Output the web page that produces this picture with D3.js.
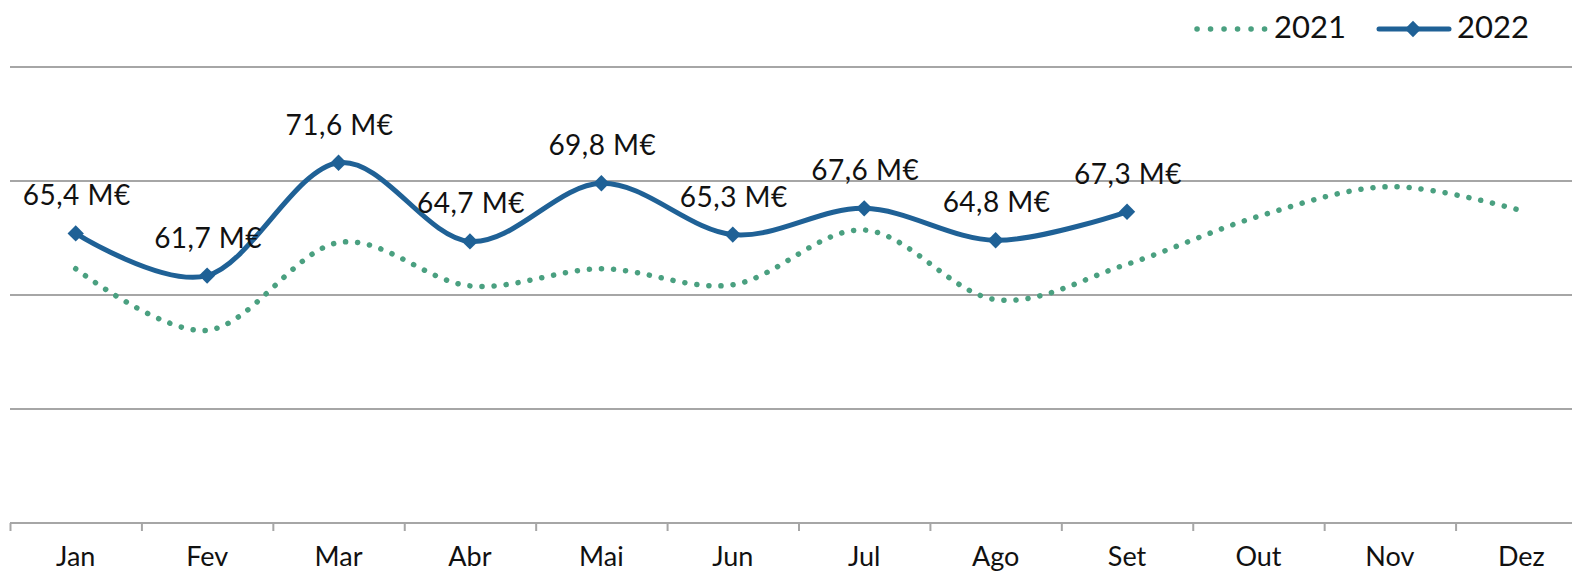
<!DOCTYPE html>
<html>
<head>
<meta charset="utf-8">
<script src="https://cdn.jsdelivr.net/npm/d3@7"></script>
<style>
  html, body { margin: 0; padding: 0; background: #fff; }
  svg { display: block; }
  text { font-family: Lato, "DejaVu Sans", sans-serif; fill: #111; }
</style>
</head>
<body>
<div id="chart"></div>
<script>
// Data
const months = ["Jan", "Fev", "Mar", "Abr", "Mai", "Jun", "Jul", "Ago", "Set", "Out", "Nov", "Dez"];
const values2021 = [62.3, 56.9, 64.6, 60.8, 62.3, 60.9, 65.7, 59.6, 62.7, 66.9, 69.5, 67.4];
const values2022 = [65.4, 61.7, 71.6, 64.7, 69.8, 65.3, 67.6, 64.8, 67.3];
const gridValues = [50, 60, 70, 80];

const W = 1572, H = 573;
const plotLeft = 10, plotRight = 1587, plotTop = 67, plotBottom = 523;

const svg = d3.select("#chart")
    .append("svg")
    .attr("width", W)
    .attr("height", H);

const x = d3.scaleBand().domain(months).range([plotLeft, plotRight]);
const xEdge = d3.scaleLinear().domain([0, months.length]).range([plotLeft, plotRight]);
const y = d3.scaleLinear().domain([40, 80]).range([plotBottom, plotTop]);
const cx = m => x(m) + x.bandwidth() / 2;

// Gridlines
svg.append("g")
    .selectAll("line")
    .data(gridValues)
    .enter().append("line")
    .attr("x1", plotLeft)
    .attr("x2", W)
    .attr("y1", d => y(d))
    .attr("y2", d => y(d))
    .attr("stroke", "#a6a6a6")
    .attr("stroke-width", 2);

// X axis with ticks between categories
const xAxis = svg.append("g")
    .attr("transform", "translate(0," + y(40) + ")")
    .call(d3.axisBottom(xEdge)
        .tickValues(d3.range(months.length + 1))
        .tickFormat("")
        .tickSize(8)
        .tickSizeOuter(0));
xAxis.select(".domain").attr("stroke", "#a6a6a6").attr("stroke-width", 2)
    .attr("d", "M" + plotLeft + ",0H" + W);
xAxis.selectAll(".tick line").attr("stroke", "#a6a6a6").attr("stroke-width", 2);

svg.append("g")
    .selectAll("text")
    .data(months)
    .enter().append("text")
    .attr("x", d => cx(d))
    .attr("y", 566)
    .attr("text-anchor", "middle")
    .style("font-size", "27px")
    .text(d => d);

const line = d3.line()
    .x((d, i) => cx(months[i]))
    .y(d => y(d))
    .curve(d3.curveCatmullRom.alpha(0));

// 2021 dotted
svg.append("path")
    .datum(values2021)
    .attr("d", line)
    .attr("fill", "none")
    .attr("stroke", "#4aa080")
    .attr("stroke-width", 5.5)
    .attr("stroke-linecap", "round")
    .attr("stroke-dasharray", "0.1 12");

// 2022 solid
svg.append("path")
    .datum(values2022)
    .attr("d", line)
    .attr("fill", "none")
    .attr("stroke", "#1f6196")
    .attr("stroke-width", 5);

const diamond = d3.symbol().type(d3.symbolDiamond2).size(170);

svg.append("g")
    .selectAll("path")
    .data(values2022)
    .enter().append("path")
    .attr("d", diamond)
    .attr("transform", (d, i) => "translate(" + cx(months[i]) + "," + y(d) + ")")
    .attr("fill", "#1f6196");

// Data labels
svg.append("g")
    .selectAll("text")
    .data(values2022)
    .enter().append("text")
    .attr("x", (d, i) => cx(months[i]) + 1)
    .attr("y", d => y(d) - 28)
    .attr("text-anchor", "middle")
    .style("font-size", "28px")
    .style("letter-spacing", "0.5px")
    .text(d => d.toFixed(1).replace(".", ",") + " M€");

// Legend
const lg = svg.append("g");
lg.append("line")
    .attr("x1", 1197).attr("x2", 1265)
    .attr("y1", 29).attr("y2", 29)
    .attr("stroke", "#4aa080")
    .attr("stroke-width", 5.5)
    .attr("stroke-linecap", "round")
    .attr("stroke-dasharray", "0.1 13.4");
lg.append("text")
    .attr("x", 1274).attr("y", 38)
    .style("font-size", "31px")
    .text("2021");
lg.append("line")
    .attr("x1", 1379).attr("x2", 1449)
    .attr("y1", 29).attr("y2", 29)
    .attr("stroke", "#1f6196")
    .attr("stroke-width", 5)
    .attr("stroke-linecap", "round");
lg.append("path")
    .attr("d", diamond)
    .attr("transform", "translate(1413,29)")
    .attr("fill", "#1f6196");
lg.append("text")
    .attr("x", 1457).attr("y", 38)
    .style("font-size", "31px")
    .text("2022");
</script>
</body>
</html>
